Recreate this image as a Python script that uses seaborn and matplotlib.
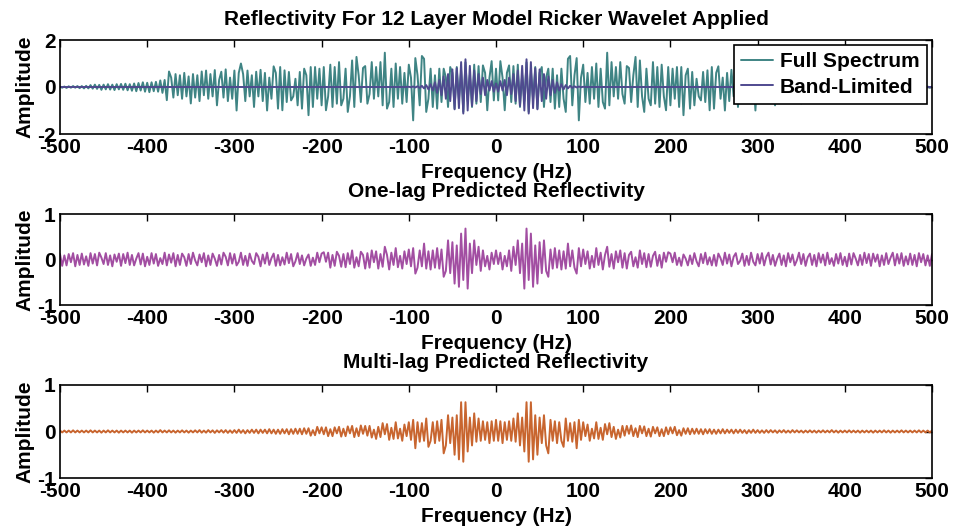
import numpy as np
import pandas as pd
import matplotlib
matplotlib.use("Agg")
import matplotlib.pyplot as plt
import seaborn as sns

# ---------------- data (half spectrum, 0..500 Hz step 2.5 Hz; spectrum is symmetric) ----
freq_step = 2.5
freq_max = 500

full_spectrum = [
    0.78, -0.57, 1.1, 0.4, -0.99, 0.6, 0.92, -0.64, 0.89, -0.71,
    0.95, -0.85, 0.5, -0.6, 1.05, -1.06, 0.7, -0.5, 0.85, -0.92,
    0.6, 0.85, -0.85, 0.4, 0.78, -0.64, 0.78, -0.92, 0.5, -0.85,
    0.78, -0.5, -1.06, 1.2, 1.32, -0.78, 0.5, 1.23, -1.42, 0.4,
    0.95, -0.64, 0.6, -0.71, 0.85, -0.5, 1.0, -0.85, 0.78, -0.64,
    -0.92, 1.46, -0.78, 1.06, -0.4, 0.85, -0.5, 1.06, -0.3, -0.71,
    0.89, 0.81, -0.64, 0.5, 1.28, -0.85, 1.13, -0.4, -1.06, 0.78,
    -0.5, -0.78, 1.06, -0.71, 0.85, -0.85, 0.95, -0.4, -0.99, 0.85,
    -0.78, 0.78, -0.5, 0.85, -0.85, 0.85, -1.2, 0.5, 0.78, -0.92,
    0.64, -0.78, 0.35, -0.4, -0.57, 0.64, -0.64, 0.71, -0.99, 0.85,
    -0.92, 0.6, 0.88, -0.5, 0.4, -1.0, 0.6, -0.6, 0.73, -0.4,
    0.65, -0.85, 0.5, -0.4, 0.7, -0.6, 0.55, 1.0, 0.6, -1.0,
    0.7, -0.5, 0.4, -0.6, 0.75, -0.45, 0.65, 0.3, -0.78, 0.72,
    -0.4, 0.55, -0.5, 0.7, -0.35, 0.66, -0.6, 0.5, -0.45, 0.55,
    -0.7, 0.45, -0.4, 0.6, -0.5, 0.5, -0.35, 0.55, -0.45, 0.4,
    0.66, -0.56, 0.3, -0.25, 0.28, -0.2, 0.22, -0.18, 0.2, -0.22,
    0.18, -0.2, 0.2, -0.15, 0.17, -0.18, 0.15, -0.16, 0.12, -0.14,
    0.14, -0.12, 0.13, -0.1, 0.12, -0.13, 0.1, -0.11, 0.12, -0.1,
    0.1, -0.12, 0.09, -0.08, 0.1, -0.07, 0.08, -0.06, 0.05, -0.06,
    0.04, -0.05, 0.04, -0.03, 0.04, -0.03, 0.03, -0.04, 0.02, -0.03,
    0.02,
]

band_limited_nonzero = [
    0.15, -0.2, 0.25, -0.15, 0.3, -0.35, 0.4, -0.3, 0.55, -0.6,
    0.7, -0.8, 0.9, -1.0, 1.18, -1.13, 1.06, -0.9, 0.8, -0.95,
    0.75, -0.6, 0.55, -0.5, 0.45, -0.35, 0.3, -0.25, 0.2, -0.15,
    0.12, -0.1, 0.08, -0.06, 0.05, -0.04, 0.03, -0.02, 0.02, -0.01,
    0.01,
]

one_lag = [
    0.2, -0.1, 0.15, -0.22, 0.08, -0.15, 0.2, -0.25, 0.28, -0.12,
    0.42, -0.3, 0.35, -0.64, 0.68, -0.45, 0.57, -0.6, 0.31, -0.53,
    0.38, -0.3, 0.42, -0.25, -0.38, 0.22, -0.2, 0.25, -0.18, 0.2,
    -0.22, 0.18, -0.2, 0.35, -0.15, 0.2, -0.18, -0.31, 0.25, -0.15,
    0.22, -0.1, 0.18, -0.2, 0.08, -0.17, 0.25, -0.12, 0.15, -0.22,
    0.1, 0.28, -0.16, 0.12, -0.2, 0.18, -0.06, 0.2, -0.18, 0.14,
    -0.2, 0.1, 0.17, -0.15, 0.05, -0.18, 0.2, -0.1, 0.14, -0.17,
    0.12, -0.16, 0.08, 0.17, -0.14, 0.1, -0.18, 0.15, -0.05, 0.16,
    0.13, -0.06, 0.15, -0.12, 0.04, -0.14, 0.11, 0.02, -0.13, 0.09,
    -0.1, 0.14, -0.04, -0.15, 0.12, -0.08, 0.15, -0.11, 0.05, -0.13,
    0.1, -0.14, 0.13, 0.03, -0.12, 0.15, -0.09, 0.11, -0.15, 0.06,
    0.14, -0.1, -0.03, 0.13, -0.14, 0.08, -0.12, 0.15, -0.05, -0.13,
    0.12, -0.09, 0.14, -0.13, 0.06, 0.15, -0.11, 0.1, -0.14, 0.02,
    0.13, -0.12, 0.09, -0.15, 0.14, -0.06, 0.11, -0.13, -0.02, 0.15,
    -0.1, 0.12, -0.14, 0.05, 0.13, -0.12, 0.1, -0.15, 0.14, -0.07,
    0.11, -0.13, 0.15, -0.1, 0.03, -0.14, 0.12, -0.09, 0.14, -0.12,
    0.06, -0.15, 0.13, -0.11, 0.14, 0.02, -0.13, 0.1, -0.12, 0.15,
    -0.08, 0.12, -0.14, 0.13, -0.05, 0.11, -0.15, 0.09, -0.12, 0.14,
    -0.1, 0.04, 0.15, -0.13, 0.12, -0.09, 0.14, -0.14, 0.07, -0.11,
    0.13, -0.12, 0.1, -0.15, 0.14, -0.06, 0.12, -0.13, 0.09, -0.14,
    0.12,
]

multi_lag = [
    0.25, -0.2, 0.22, -0.25, 0.2, -0.18, 0.22, -0.2, 0.28, -0.22,
    0.39, -0.3, 0.3, -0.43, 0.63, -0.65, 0.63, -0.6, 0.35, -0.5,
    0.3, -0.25, 0.35, -0.3, -0.47, 0.25, -0.2, 0.22, -0.25, 0.2,
    -0.2, -0.33, 0.28, -0.2, 0.18, -0.22, 0.2, -0.36, 0.25, -0.18,
    0.2, -0.1, 0.15, -0.2, 0.06, -0.15, 0.2, -0.16, 0.08, -0.18,
    0.16, -0.06, 0.18, -0.12, 0.1, -0.16, 0.04, -0.13, 0.12, -0.09,
    0.12, -0.05, 0.13, -0.1, 0.07, -0.12, 0.12, -0.04, 0.11, -0.1,
    0.06, -0.11, 0.1, -0.04, 0.09, -0.1, 0.05, -0.1, 0.09, -0.06,
    0.09, -0.04, 0.1, -0.08, 0.03, -0.09, 0.07, -0.05, 0.07, -0.06,
    0.06, -0.05, 0.06, -0.05, 0.05, -0.06, 0.05, -0.04, 0.05, -0.05,
    0.04, -0.05, 0.04, -0.04, 0.05, -0.04, 0.04, -0.03, 0.04, -0.04,
    0.04, -0.03, 0.04, -0.03, 0.03, -0.04, 0.03, -0.03, 0.04, -0.03,
    0.03, -0.03, 0.025, -0.03, 0.03, -0.025, 0.03, -0.02, 0.025, -0.03,
    0.025, -0.02, 0.03, -0.025, 0.02, -0.025, 0.03, -0.02, 0.025, -0.02,
    0.02, -0.025, 0.02, -0.02, 0.025, -0.02, 0.02, -0.025, 0.02, -0.02,
    0.025, -0.02, 0.02, -0.02, 0.03, -0.02, 0.02, -0.025, 0.02, -0.02,
    0.02, -0.02, 0.025, -0.02, 0.02, -0.02, 0.02, -0.025, 0.02, -0.02,
    0.02, -0.02, 0.02, -0.025, 0.02, -0.02, 0.02, -0.02, 0.025, -0.02,
    0.02, -0.025, 0.02, -0.02, 0.02, -0.02, 0.025, -0.02, 0.02, -0.02,
    0.02, -0.02, 0.02, -0.02, 0.025, -0.02, 0.02, -0.02, 0.02, -0.02,
    0.02,
]

xticks = [-500, -400, -300, -200, -100, 0, 100, 200, 300, 400, 500]
titles = ["Reflectivity For 12 Layer Model Ricker Wavelet Applied",
          "One-lag Predicted Reflectivity",
          "Multi-lag Predicted Reflectivity"]
legend_labels = ["Full Spectrum", "Band-Limited"]

# ---------------- build symmetric series ----------------
half_f = np.arange(0, freq_max + freq_step / 2, freq_step)
n = len(half_f)
band_limited = band_limited_nonzero + [0.0] * (n - len(band_limited_nonzero))


def mirror(vals):
    v = np.asarray(vals, dtype=float)
    return np.concatenate([v[::-1][:-1], v])


freqs = np.concatenate([-half_f[::-1][:-1], half_f])
df = pd.DataFrame({
    "freq": freqs,
    "full": mirror(full_spectrum),
    "band": mirror(band_limited),
    "one": mirror(one_lag),
    "multi": mirror(multi_lag),
})

# ---------------- style ----------------
sns.set_style("white")
plt.rcParams["font.family"] = ["Liberation Sans Narrow", "Liberation Sans", "DejaVu Sans"]
plt.rcParams["font.weight"] = "bold"
plt.rcParams["axes.labelweight"] = "bold"
plt.rcParams["axes.titleweight"] = "bold"
plt.rcParams["text.color"] = "black"
plt.rcParams["axes.labelcolor"] = "black"
plt.rcParams["xtick.color"] = "black"
plt.rcParams["ytick.color"] = "black"

c_full = "#3f8484"
c_band = "#4f4a8f"
c_one = "#a24ea2"
c_multi = "#c8652f"

fig = plt.figure(figsize=(9.55, 5.32), dpi=100)
W, H = 955, 532
L, R = 60, 932
boxes = [(40, 134), (214, 305), (385, 478)]
axes = []
for top, bot in boxes:
    ax = fig.add_axes([L / W, 1 - bot / H, (R - L) / W, (bot - top) / H])
    axes.append(ax)

fs = 15
lw = 1.4

sns.lineplot(data=df, x="freq", y="full", ax=axes[0], color=c_full, linewidth=lw,
             label=legend_labels[0], estimator=None, sort=False)
sns.lineplot(data=df, x="freq", y="band", ax=axes[0], color=c_band, linewidth=lw,
             label=legend_labels[1], estimator=None, sort=False)
sns.lineplot(data=df, x="freq", y="one", ax=axes[1], color=c_one, linewidth=lw,
             estimator=None, sort=False)
sns.lineplot(data=df, x="freq", y="multi", ax=axes[2], color=c_multi, linewidth=lw,
             estimator=None, sort=False)

ylims = [(-2, 2), (-1, 1), (-1, 1)]
yticks = [[-2, 0, 2], [-1, 0, 1], [-1, 0, 1]]
pads = [11, 12, 12]
for ax, t, yl, yt, p in zip(axes, titles, ylims, yticks, pads):
    ax.set_xlim(-500, 500)
    ax.set_ylim(*yl)
    ax.set_xticks(xticks)
    ax.set_xticklabels([str(v) for v in xticks])
    ax.set_yticks(yt)
    ax.set_yticklabels([str(v) for v in yt])
    ax.tick_params(axis="both", direction="in", top=True, right=True, length=5,
                   width=1, labelsize=fs, pad=3, colors="black")
    for lab in ax.get_xticklabels() + ax.get_yticklabels():
        lab.set_fontweight("bold")
    for s in ax.spines.values():
        s.set_color("black")
        s.set_linewidth(1.2)
    ax.set_xlabel("Frequency (Hz)", fontsize=fs, fontweight="bold", labelpad=4)
    ax.set_ylabel("Amplitude", fontsize=fs, fontweight="bold", labelpad=2)
    ax.set_title(t, fontsize=fs, fontweight="bold", pad=p)

leg = axes[0].legend(loc="upper right", frameon=True, fancybox=False,
                     edgecolor="black", framealpha=1, borderaxespad=0.25,
                     handlelength=1.5, handletextpad=0.35, borderpad=0.35,
                     labelspacing=0.3, prop={"weight": "bold", "size": fs})
leg.get_frame().set_linewidth(1.2)

fig.savefig("out.png", dpi=100)
